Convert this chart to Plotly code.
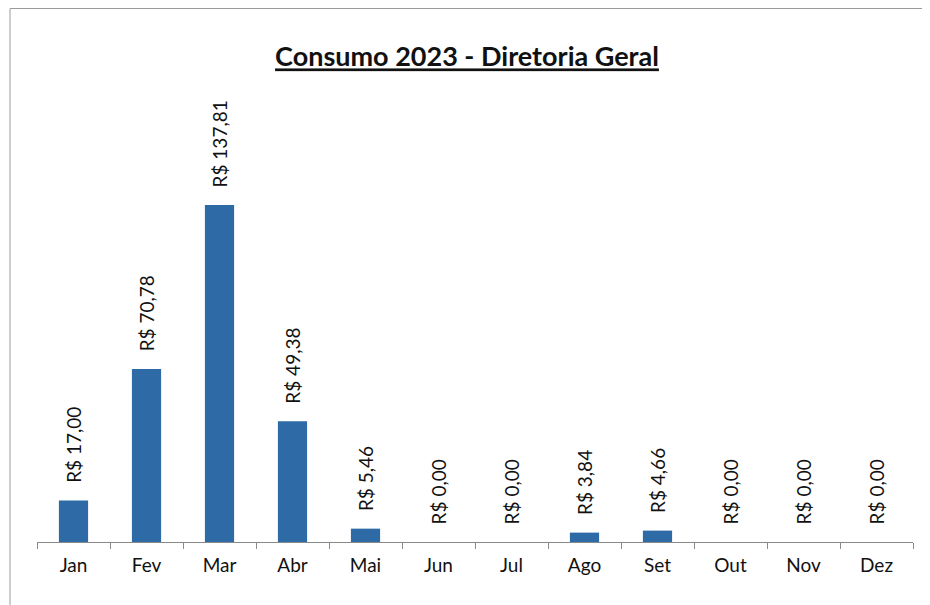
import plotly.graph_objects as go

months = ["Jan", "Fev", "Mar", "Abr", "Mai", "Jun", "Jul", "Ago", "Set", "Out", "Nov", "Dez"]
values = [17.00, 70.78, 137.81, 49.38, 5.46, 0.00, 0.00, 3.84, 4.66, 0.00, 0.00, 0.00]
labels = ["\u00a0\u00a0\u00a0R$ " + f"{v:.2f}".replace(".", ",") for v in values]

FONT = "Lato"

fig = go.Figure(go.Bar(
    x=months, y=values, text=labels,
    textposition="outside", textangle=-90,
    textfont=dict(family=FONT, size=19, color="#111111"),
    marker=dict(color="#2D6AA6", line=dict(width=0)),
    width=0.4, cliponaxis=False,
))

W, H = 922, 597
L, R, T, B = 29, 17, 92, 63
pw, ph = W - L - R, H - T - B

fig.update_layout(
    width=W, height=H,
    margin=dict(l=L, r=R, t=T, b=B, autoexpand=False),
    paper_bgcolor="white", plot_bgcolor="white",
    showlegend=False,
    uniformtext=dict(mode="show", minsize=19),
    title=dict(
        text="<b><u>Consumo 2023 - Diretoria Geral</u></b>",
        x=(467 - 8 - L) / pw * 0 + (467 - 8) / W, xanchor="center",
        y=1 - (57 - 8) / H, yanchor="middle",
        xref="paper" if False else "container", yref="container",
        font=dict(family=FONT, size=27, color="#111111"),
    ),
    xaxis=dict(
        showline=True, linecolor="#8a8a8a", linewidth=1,
        ticks="outside", tickson="boundaries", ticklen=6, tickcolor="#8a8a8a",
        tickfont=dict(family=FONT, size=19, color="#111111"),
        ticklabelstandoff=6,
        showgrid=False,
    ),
    yaxis=dict(range=[0, ph / 2.445], visible=False, showgrid=False),
    shapes=[
        dict(type="line", xref="paper", yref="paper", x0=(2 - L) / pw, x1=(W - L) / pw,
             y0=1 + (T - 0.5) / ph, y1=1 + (T - 0.5) / ph, line=dict(color="#9a9a9a", width=1)),
        dict(type="line", xref="paper", yref="paper", x0=(2 - L) / pw, x1=(2 - L) / pw,
             y0=1 + (T - 0.5) / ph, y1=-B / ph, line=dict(color="#9a9a9a", width=1)),
    ],
)

fig.write_html("out.html")
